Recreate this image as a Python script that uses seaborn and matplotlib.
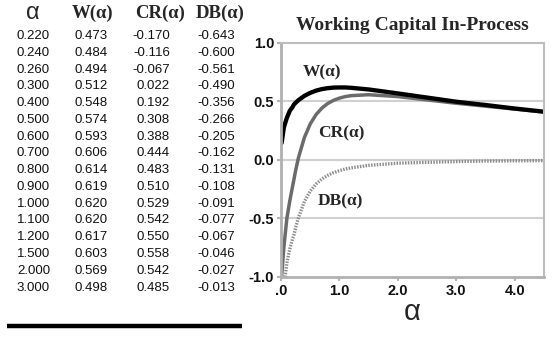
import numpy as np
import pandas as pd
import matplotlib
matplotlib.use("Agg")
import matplotlib.pyplot as plt
from matplotlib.lines import Line2D
import seaborn as sns

# ---- table data ----
alpha_tab = [0.22, 0.24, 0.26, 0.30, 0.40, 0.50, 0.60, 0.70, 0.80, 0.90, 1.00, 1.10, 1.20, 1.50, 2.00, 3.00]
w_tab = [0.473, 0.484, 0.494, 0.512, 0.548, 0.574, 0.593, 0.606, 0.614, 0.619, 0.620, 0.620, 0.617, 0.603, 0.569, 0.498]
cr_tab = [-0.170, -0.116, -0.067, 0.022, 0.192, 0.308, 0.388, 0.444, 0.483, 0.510, 0.529, 0.542, 0.550, 0.558, 0.542, 0.485]
db_tab = [-0.643, -0.600, -0.561, -0.490, -0.356, -0.266, -0.205, -0.162, -0.131, -0.108, -0.091, -0.077, -0.067, -0.046, -0.027, -0.013]

# ---- extra points (small alpha and beyond 3.0) ----
alpha_lo = [0.01, 0.05, 0.10, 0.15, 0.20]
w_lo = [0.145, 0.28, 0.36, 0.42, 0.455]
cr_lo = [-1.0, -0.74, -0.50, -0.35, -0.22]
db_alpha_lo = [0.07, 0.10, 0.15, 0.20]
db_lo = [-1.0, -0.88, -0.76, -0.67]
alpha_hi = [3.5, 4.0, 4.5]
w_hi = [0.47, 0.44, 0.413]
cr_hi = [0.46, 0.435, 0.41]
db_hi = [-0.009, -0.007, -0.005]

title = "Working Capital In-Process"
xticks = [0, 1, 2, 3, 4]
xticklabels = [".0", "1.0", "2.0", "3.0", "4.0"]
yticks = [-1.0, -0.5, 0.0, 0.5, 1.0]
yticklabels = ["-1.0", "-0.5", "0.0", "0.5", "1.0"]

sns.set_theme(style="white")
plt.rcParams["font.family"] = ["Liberation Sans", "DejaVu Sans"]

W, H = 560, 343
fig = plt.figure(figsize=(W / 100, H / 100), dpi=100)

def fx(px):
    return px / W

def fy(py):
    return 1 - py / H

# ---- table ----
serif = ["Liberation Serif", "DejaVu Serif"]
fig.text(fx(33), fy(13), "α", ha="center", va="center", fontsize=17)
for cx, lab in [(93, "W(α)"), (160, "CR(α)"), (220, "DB(α)")]:
    fig.text(fx(cx), fy(13), lab, ha="center", va="center", fontsize=13.5,
             fontweight="bold", family=serif)

for i in range(len(alpha_tab)):
    y = fy(36 + i * 16.77)
    fig.text(fx(50), y, f"{alpha_tab[i]:.3f}", ha="right", va="center", fontsize=9.5, color="#111111")
    fig.text(fx(108), y, f"{w_tab[i]:.3f}", ha="right", va="center", fontsize=9.5, color="#111111")
    fig.text(fx(170), y, f"{cr_tab[i]:.3f}", ha="right", va="center", fontsize=9.5, color="#111111")
    fig.text(fx(235), y, f"{db_tab[i]:.3f}", ha="right", va="center", fontsize=9.5, color="#111111")

fig.add_artist(Line2D([fx(7), fx(242)], [fy(326), fy(326)], color="black", lw=3.2,
                      solid_capstyle="butt"))

# ---- chart ----
left, right, top, bottom = 281, 544, 43, 277
ax = fig.add_axes([fx(left), fy(bottom), (right - left) / W, (bottom - top) / H])

dW = pd.DataFrame({"a": alpha_lo + alpha_tab + alpha_hi, "v": w_lo + w_tab + w_hi})
dCR = pd.DataFrame({"a": alpha_lo + alpha_tab + alpha_hi, "v": cr_lo + cr_tab + cr_hi})
dDB = pd.DataFrame({"a": db_alpha_lo + alpha_tab + alpha_hi, "v": db_lo + db_tab + db_hi})

for yv in [0.5, 0.0, -0.5]:
    ax.axhline(yv, color="#d0d0d0", lw=1.5, zorder=0)

sns.lineplot(data=dDB, x="a", y="v", ax=ax, color="#8c8c8c", lw=2.4,
             linestyle=(0, (0.45, 0.4)), estimator=None, sort=False)
sns.lineplot(data=dCR, x="a", y="v", ax=ax, color="#6b6b6b", lw=2.5,
             estimator=None, sort=False)
sns.lineplot(data=dW, x="a", y="v", ax=ax, color="black", lw=3.1,
             estimator=None, sort=False)

ax.set_xlim(0, 4.5)
ax.set_ylim(-1.0, 1.0)
ax.set_xticks(xticks)
ax.set_xticklabels(xticklabels)
ax.set_yticks(yticks)
ax.set_yticklabels(yticklabels)
for lab in ax.get_xticklabels() + ax.get_yticklabels():
    lab.set_fontweight("bold")
    lab.set_fontsize(10.5)
    lab.set_color("#111111")
ax.tick_params(axis="both", which="both", length=3, width=1.5, color="#b4b4b4",
               direction="out", pad=2, left=True, bottom=True)
for s in ax.spines.values():
    s.set_color("#bdbdbd")
    s.set_linewidth(1.5)
for s in ["left", "bottom"]:
    ax.spines[s].set_color("#b0b0b0")
    ax.spines[s].set_linewidth(2)

ax.set_xlabel("α", fontsize=21, labelpad=0)
ax.set_ylabel("")
ax.grid(False)

ax.text(0.71, 0.75, "W(α)", ha="center", va="center", fontsize=12.5, fontweight="bold", family=serif)
ax.text(1.03, 0.23, "CR(α)", ha="center", va="center", fontsize=12.5, fontweight="bold", family=serif)
ax.text(1.02, -0.35, "DB(α)", ha="center", va="center", fontsize=12.5, fontweight="bold", family=serif)

fig.text(fx(412), fy(26), title, ha="center", va="center", fontsize=14,
         fontweight="bold", family=serif)

fig.savefig("out.png", dpi=100)
